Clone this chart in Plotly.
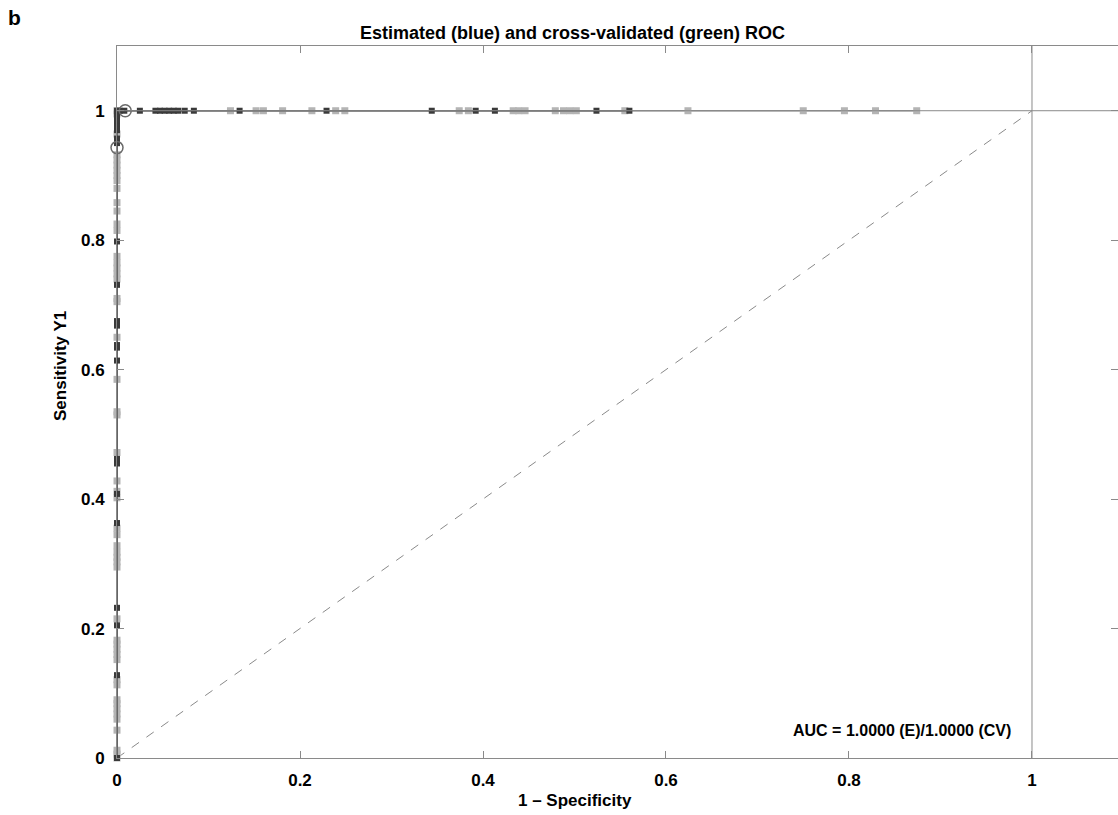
import plotly.graph_objects as go

# Estimated ROC points (dark)
est_fpr_vert = [0.0] * 22
est_tpr_vert = [0.0, 0.128, 0.205, 0.232, 0.363, 0.408, 0.455, 0.462, 0.614, 0.634,
                0.638, 0.668, 0.675, 0.731, 0.798, 0.950, 0.957, 0.970, 0.978, 0.985,
                0.992, 1.0]
est_fpr_top = [0.003, 0.008, 0.025, 0.042, 0.047, 0.052, 0.057, 0.062, 0.067, 0.074,
               0.084, 0.134, 0.229, 0.344, 0.392, 0.413, 0.524, 0.560]
est_tpr_top = [1.0] * 18

# Cross-validated ROC points (light)
cv_tpr_vert = [0.0, 0.006, 0.012, 0.043, 0.060, 0.068, 0.076, 0.084, 0.090, 0.113,
               0.121, 0.152, 0.160, 0.168, 0.176, 0.182, 0.215, 0.295, 0.303, 0.310,
               0.318, 0.328, 0.345, 0.355, 0.402, 0.412, 0.428, 0.472, 0.530, 0.535,
               0.585, 0.650, 0.705, 0.710, 0.740, 0.748, 0.757, 0.765, 0.775, 0.815,
               0.825, 0.845, 0.858, 0.880, 0.892, 0.900, 0.908, 0.916, 0.924, 0.932,
               0.964, 0.995, 1.0]
cv_fpr_vert = [0.0] * len(cv_tpr_vert)
cv_fpr_top = [0.124, 0.152, 0.160, 0.181, 0.213, 0.239, 0.249, 0.374, 0.384, 0.433,
              0.439, 0.446, 0.479, 0.488, 0.495, 0.502, 0.555, 0.624, 0.750, 0.795,
              0.829, 0.874]
cv_tpr_top = [1.0] * len(cv_fpr_top)

# Operating points (circles)
op_fpr = [0.0, 0.009]
op_tpr = [0.943, 1.0]

diag_x = [0, 1]
diag_y = [0, 1]

tick_vals = [0, 0.2, 0.4, 0.6, 0.8, 1]

DARK = "#3a3a3a"
LIGHT = "#b4b4b4"
FONT = "Liberation Sans, Arial, sans-serif"

fig = go.Figure()

fig.add_trace(go.Scatter(x=diag_x, y=diag_y, mode="lines",
                         line=dict(color="#8a8a8a", width=1, dash="dash"),
                         hoverinfo="skip", showlegend=False))

cv_x = cv_fpr_vert + cv_fpr_top
cv_y = cv_tpr_vert + cv_tpr_top
fig.add_trace(go.Scatter(x=cv_x, y=cv_y, mode="lines+markers",
                         line=dict(color="#8c8c8c", width=1.6),
                         marker=dict(symbol="square", size=7, color=LIGHT, line=dict(width=0)),
                         cliponaxis=False, showlegend=False))

est_x = est_fpr_vert + est_fpr_top
est_y = est_tpr_vert + est_tpr_top
fig.add_trace(go.Scatter(x=est_x, y=est_y, mode="lines",
                         line=dict(color="#555555", width=1.6),
                         cliponaxis=False, showlegend=False))
fig.add_trace(go.Scatter(x=est_x, y=est_y, mode="markers",
                         marker=dict(symbol="square", size=6, color=DARK, line=dict(width=0)),
                         cliponaxis=False, showlegend=False))

fig.add_trace(go.Scatter(x=op_fpr, y=op_tpr, mode="markers",
                         marker=dict(symbol="circle-open", size=12, color="#6a6a6a",
                                     line=dict(width=1.5, color="#6a6a6a")),
                         cliponaxis=False, showlegend=False))

# right-side ticks without a right line
fig.add_trace(go.Scatter(x=[None], y=[None], yaxis="y2", showlegend=False))

fig.add_shape(type="line", x0=1, x1=1, y0=0, y1=1.1, xref="x", yref="y",
              line=dict(color="#8a8a8a", width=1))
fig.add_shape(type="line", x0=0, x1=1.094, y0=1, y1=1, xref="x", yref="y",
              line=dict(color="#8a8a8a", width=1))

pw = 1118 - 117
ph = 815 - 46 - 57


def px_x(p):
    return (p - 117) / pw


def px_y(p):
    return (758 - p) / ph


fig.update_layout(
    width=1118, height=815,
    margin=dict(l=117, r=0, t=46, b=57),
    paper_bgcolor="white", plot_bgcolor="white",
    font=dict(family=FONT, color="black"),
    xaxis=dict(range=[0, 1.094], tickvals=tick_vals, ticks="inside", ticklen=7,
               tickcolor="#8a8a8a", showgrid=False, zeroline=False,
               showline=True, linecolor="#8a8a8a", linewidth=1, mirror="ticks",
               tickfont=dict(size=17, family=FONT, weight="bold"), ticklabelstandoff=7),
    yaxis=dict(range=[0, 1.1], tickvals=tick_vals, ticks="inside", ticklen=7,
               tickcolor="#8a8a8a", showgrid=False, zeroline=False,
               showline=True, linecolor="#8a8a8a", linewidth=1,
               tickfont=dict(size=17, family=FONT, weight="bold"), ticklabelstandoff=8),
    yaxis2=dict(range=[0, 1.1], tickvals=tick_vals, ticks="inside", ticklen=7,
                tickcolor="#8a8a8a", overlaying="y", side="right", showline=False,
                showgrid=False, zeroline=False, showticklabels=False),
    annotations=[
        dict(text="Estimated (blue) and cross-validated (green) ROC",
             x=px_x(572), y=px_y(33), xref="paper", yref="paper",
             xanchor="center", yanchor="middle", showarrow=False,
             font=dict(size=18, family=FONT, weight="bold")),
        dict(text="1 – Specificity", x=px_x(575), y=px_y(801), xref="paper", yref="paper",
             xanchor="center", yanchor="middle", showarrow=False,
             font=dict(size=17, family=FONT, weight="bold")),
        dict(text="Sensitivity Y1", x=px_x(60), y=px_y(366), xref="paper", yref="paper",
             xanchor="center", yanchor="middle", showarrow=False, textangle=-90,
             font=dict(size=17, family=FONT, weight="bold")),
        dict(text="b", x=px_x(14), y=px_y(17), xref="paper", yref="paper",
             xanchor="center", yanchor="middle", showarrow=False,
             font=dict(size=21, family=FONT, weight="bold")),
        dict(text="AUC = 1.0000 (E)/1.0000 (CV)", x=0.979, y=0.043, xref="x", yref="y",
             xanchor="right", yanchor="middle", showarrow=False,
             font=dict(size=16, family=FONT, weight="bold")),
    ],
)

fig.write_html("out.html")
